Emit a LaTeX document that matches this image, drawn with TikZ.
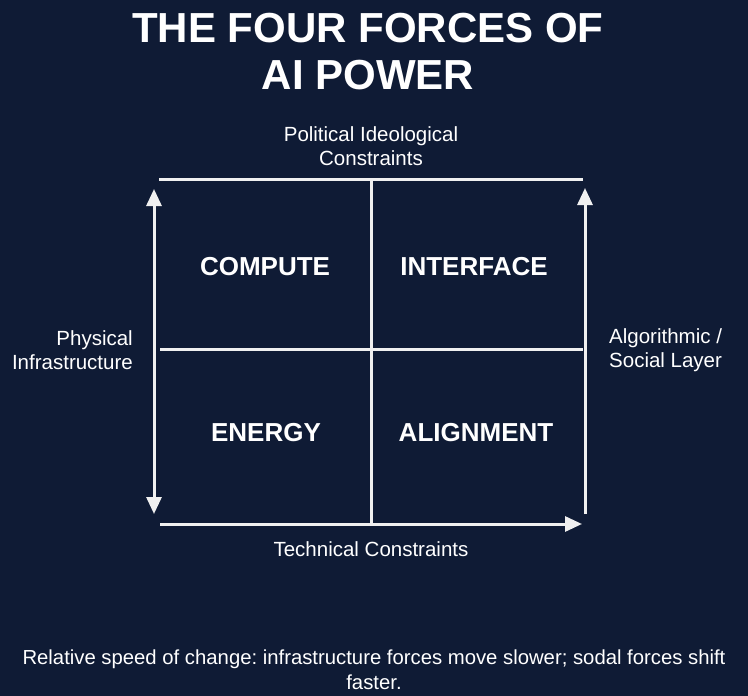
\documentclass[tikz,border=0pt]{standalone}
\usepackage{fontspec}
\setmainfont{Liberation Sans}
\usetikzlibrary{arrows.meta}
\frenchspacing
\definecolor{bgnavy}{RGB}{15,27,53}
\definecolor{linewhite}{RGB}{240,240,240}
\tikzset{
  txt/.style={text=white, inner sep=0pt, align=center, font=\fontsize{20.5}{24.5}\selectfont},
  quad/.style={text=white, inner sep=0pt, font=\bfseries\fontsize{26}{30}\selectfont},
  gridline/.style={draw=linewhite, line width=3pt},
  axis/.style={draw=linewhite, line width=3pt, -{Triangle[width=15pt,length=17pt]}},
  axisboth/.style={draw=linewhite, line width=3pt, {Triangle[width=15pt,length=17pt]}-{Triangle[width=15pt,length=17pt]}}
}
\begin{document}
\begin{tikzpicture}[x=1pt,y=-1pt]
\fill[bgnavy] (0,0) rectangle (748,696);
\useasboundingbox (0,0) rectangle (748,696);
% title
\node[text=white, inner sep=0pt, align=center, font=\bfseries\fontsize{42}{47}\selectfont] (title) at (368,52) {THE FOUR FORCES OF\\AI POWER};
% axis labels
\node[txt] (top) at (371,146) {Political Ideological\\Constraints};
\node[txt, align=right, anchor=east] (left) at (133,350) {Physical\\Infrastructure};
\node[txt, align=left, anchor=west] (right) at (609,350) {Algorithmic /\\Social Layer};
\node[txt] (bottom) at (371,549) {Technical Constraints};
% quadrants
\node[quad] (compute) at (265,267) {COMPUTE};
\node[quad] (interface) at (474,267) {INTERFACE};
\node[quad] (energy) at (266,433) {ENERGY};
\node[quad] (alignment) at (476,433) {ALIGNMENT};
% grid coordinates
\coordinate (tl) at (159,179);
\coordinate (tr) at (583,179);
\coordinate (tm) at (371,179);
\coordinate (bm) at (371,524);
\coordinate (ml) at (160,349);
\coordinate (mr) at (583,349);
\coordinate (bl) at (160,524);
\coordinate (br) at (582,524);
\coordinate (lt) at (154,189);
\coordinate (lb) at (154,514);
\coordinate (rt) at (585,188);
\coordinate (rb) at (585,514);
\draw[gridline] (tl) -- (tr);
\draw[gridline] (tm) -- (bm);
\draw[gridline] (ml) -- (mr);
\draw[axis] (bl) -- (br);
\draw[axisboth] (lt) -- (lb);
\draw[axis] (rb) -- (rt);
% footnote
\node[txt, font=\fontsize{20.3}{25}\selectfont] (note) at (374,670) {Relative speed of change: infrastructure forces move slower; sodal forces shift\\faster.};
\end{tikzpicture}
\end{document}
